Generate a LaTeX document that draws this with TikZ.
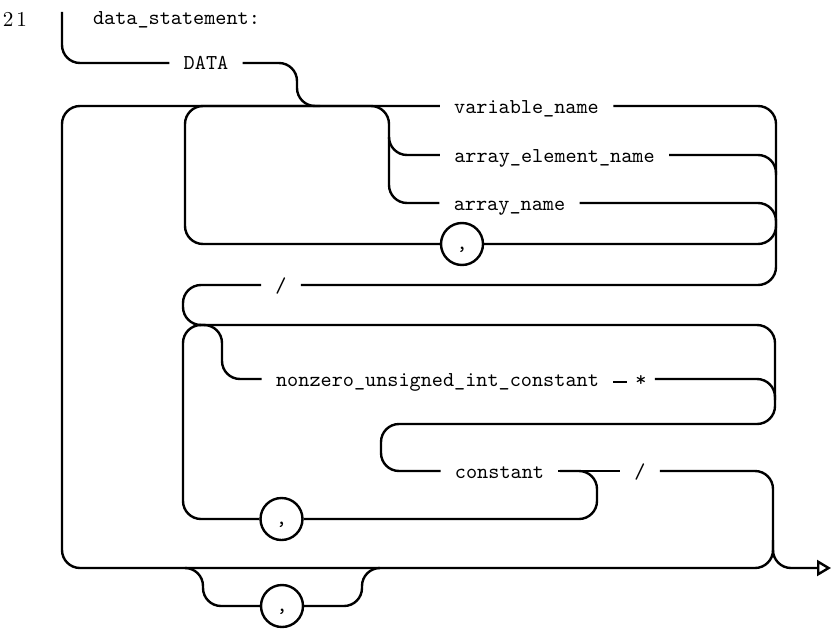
\documentclass[tikz,border=0pt]{standalone}
\usepackage{fontspec}
\usetikzlibrary{arrows.meta}
\begin{document}
\begin{tikzpicture}[x=0.5pt,y=-0.5pt,
  rail/.style={line width=1.2pt, rounded corners=9pt},
  lbl/.style={font=\fontsize{10.6}{12}\selectfont\ttfamily, inner xsep=7pt, inner ysep=0pt, text height=7pt, text depth=0pt},
  sepc/.style={circle, draw, line width=1.2pt, minimum size=21pt, inner sep=0pt, font=\fontsize{11}{12}\selectfont\ttfamily, text height=5pt, text depth=0pt, fill=white}]
\useasboundingbox (0,0) rectangle (834,631);

% labels
\node[font=\fontsize{10.6}{12}\selectfont\rmfamily] (num) at (15,19) {2\kern1.5pt1};
\node[lbl] (title) at (176.5,17.5) {data\_statement:};
\coordinate (start) at (62,12);
\node[lbl] (data) at (206,63) {DATA};
\node[lbl] (var) at (526.5,106) {variable\_name};
\node[lbl] (ae) at (554.5,155) {array\_element\_name};
\node[lbl] (an) at (509.5,203) {array\_name};
\node[sepc] (c1) at (462,244) {,};
\node[lbl] (sl1) at (281,285) {/};
\node[lbl] (nz) at (437.5,379) {nonzero\_unsigned\_int\_constant};
\node[lbl, inner xsep=4pt] (star) at (641,379) {*};
\node[lbl] (const) at (499.5,471) {constant};
\node[lbl] (sl2) at (640,471) {/};
\node[sepc] (c2) at (281.5,519) {,};
\node[sepc] (c3) at (282,606) {,};
\coordinate (out) at (831,568);

% entry and DATA
\draw[rail] (start) -- (62,63) -- (data.west);
\draw[rail] (data.east) -- (297,63) -- (297,106) -- (320,106);

% outer loop (with main line)
\draw[rail] (773,540) -- (773,568) -- (62,568) -- (62,106) -- (var.west);

% inner loop: names separated by commas
\draw[rail] (c1.west) -- (185,244) -- (185,106) -- (389,106) -- (389,203) -- (an.west);
\draw[rail] (389,137) -- (389,155) -- (ae.west);

% right side of name list
\draw[rail] (var.east) -- (776,106) -- (776,285) -- (sl1.east);
\draw[rail] (ae.east) -- (776,155) -- (776,175);
\draw[rail] (an.east) -- (776,203) -- (776,224);
\draw[rail] (776,224) -- (776,244) -- (c1.east);

% first slash, turning back right
\draw[rail] (sl1.west) -- (183,285) -- (183,325) -- (205,325);

% value list loop
\draw[rail] (c2.west) -- (183,519) -- (183,325) -- (775,325) -- (775,424) -- (381,424) -- (381,471) -- (const.west);
\draw[rail] (200,325) -- (222,325) -- (222,379) -- (nz.west);
\draw[line width=1.4pt] ([yshift=-1.5pt]nz.east) -- ([yshift=-1.5pt]star.west);
\draw[rail] (star.east) -- (775,379) -- (775,400);
\draw[rail] (const.east) -- (sl2.west);
\draw[rail] (560,471) -- (597,471) -- (597,519) -- (c2.east);

% exit
\draw[rail, -{Triangle[open, length=7pt, width=8pt, line width=1.2pt]}] (sl2.east) -- (773,471) -- (773,568) -- (out);

% bottom comma alternative
\draw[rail] (185,568) -- (203,568) -- (203,606) -- (c3.west);
\draw[rail] (c3.east) -- (362,606) -- (362,568) -- (380,568);
\end{tikzpicture}
\end{document}
